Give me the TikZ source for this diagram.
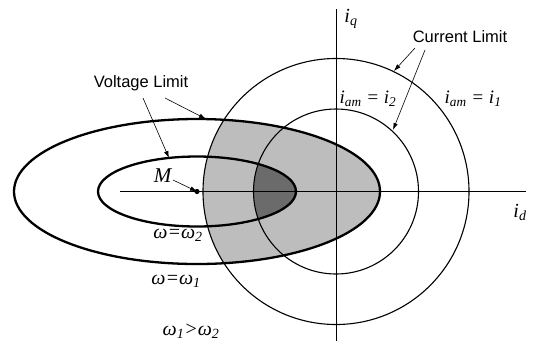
\documentclass[tikz,border=0pt]{standalone}
\usepackage{fontspec}
\setmainfont{Liberation Serif}
\setsansfont{Liberation Sans}
\usetikzlibrary{arrows.meta}

\newcommand{\wsub}[1]{\textsubscript{\itshape #1}}

\begin{document}
\begin{tikzpicture}[x=1pt, y=-1pt,
    limit/.style={font=\sffamily\fontsize{16.5}{18}\selectfont},
    lbl/.style={font=\itshape\fontsize{19}{21}\selectfont},
    wlbl/.style={font=\itshape\fontsize{20}{22}\selectfont},
    ptr/.style={-{Latex[length=7pt,width=4.5pt]}, line width=0.6pt},
    vcurve/.style={line width=2.3pt},
    ccurve/.style={line width=1.1pt}]
    \useasboundingbox (0,0) rectangle (534,341);
    \coordinate (O) at (336,191.5);
    \coordinate (M) at (197,191.5);

    % Shaded regions
    \begin{scope}
        \clip (M) ellipse [x radius=183pt, y radius=72.5pt];
        \fill[gray!52] (O) circle [radius=133pt];
    \end{scope}
    \begin{scope}
        \clip (M) ellipse [x radius=99pt, y radius=35pt];
        \fill[black!58] (O) circle [radius=82.5pt];
    \end{scope}

    % Axes
    \draw[line width=0.7pt] (120,191.5) -- (526,191.5);
    \draw[line width=0.7pt] (336,9) -- (336,341);

    % Current limit circles
    \draw[ccurve] (O) circle [radius=133pt];
    \draw[ccurve] (O) circle [radius=82.5pt];

    % Voltage limit ellipses
    \draw[vcurve] (M) ellipse [x radius=183pt, y radius=72.5pt];
    \draw[vcurve] (M) ellipse [x radius=99pt, y radius=35pt];
    \fill (M) circle [radius=2.6pt];

    % Labels
    \node[wlbl] (iq) at (351,19) {i\wsub{q}};
    \node[wlbl] (id) at (520,212) {i\wsub{d}};
    \node[wlbl, font=\itshape\fontsize{21}{23}\selectfont] (mlbl) at (162.5,176) {M};
    \node[limit] (vlim) at (141,83) {Voltage Limit};
    \node[limit] (clim) at (460,37) {Current Limit};
    \node[lbl] (itwo) at (368,99) {i\wsub{am}~=~i\wsub{2}};
    \node[lbl] (ione) at (473,99) {i\wsub{am}~=~i\wsub{1}};
    \node[wlbl] (wtwo) at (178,235) {ω=ω\wsub{2}};
    \node[wlbl] (wone) at (176,281) {ω=ω\wsub{1}};
    \node[wlbl] (wcmp) at (191,331) {ω\wsub{1}>ω\wsub{2}};

    % Pointers
    \coordinate (vouts) at (165,98);
    \coordinate (vins) at (143,98);
    \coordinate (couts) at (415,48);
    \coordinate (cins) at (425,50);
    \coordinate (ms) at (173,180);
    \coordinate (vout) at (206,119);
    \coordinate (vin) at (169,158);
    \coordinate (cout) at (394,71);
    \coordinate (cin) at (393,130);
    \draw[ptr] (vouts) -- (vout);
    \draw[ptr] (vins) -- (vin);
    \draw[ptr] (couts) -- (cout);
    \draw[ptr] (cins) -- (cin);
    \draw[ptr] (ms) -- (M);
\end{tikzpicture}
\end{document}
